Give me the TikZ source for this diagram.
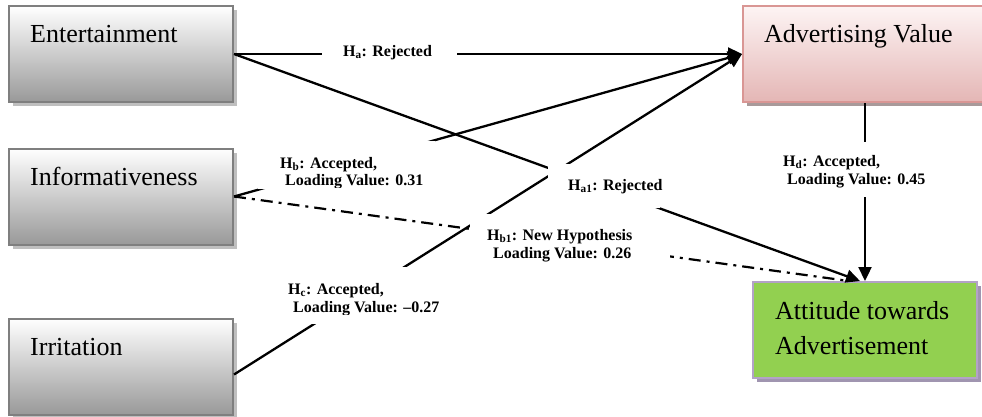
\documentclass[tikz,border=0pt]{standalone}
\usepackage{fontspec}
\setmainfont{Liberation Serif}
\usetikzlibrary{arrows.meta,shadows}
\definecolor{gborder}{HTML}{7F7F7F}
\definecolor{gshadow}{HTML}{BFBFBF}
\definecolor{pborder}{HTML}{D99694}
\definecolor{ptop}{HTML}{FDF4F4}
\definecolor{pbot}{HTML}{E4B6B5}
\definecolor{pshadow}{HTML}{A89A9A}
\definecolor{ggreen}{HTML}{92D050}
\definecolor{lborder}{HTML}{B3A2C7}
\definecolor{lshadow}{HTML}{A095B0}
\begin{document}
\begin{tikzpicture}[x=1pt,y=-1pt,
  basebox/.style={line width=2pt, inner sep=0pt, minimum height=96pt},
  greybox/.style={basebox, draw=gborder, top color=white, bottom color=black!40,
    minimum width=224pt,
    drop shadow={shadow xshift=4pt,shadow yshift=-4pt,fill=gshadow,opacity=1}},
  pinkbox/.style={basebox, draw=pborder, top color=ptop, bottom color=pbot,
    minimum width=247pt,
    drop shadow={shadow xshift=4pt,shadow yshift=-4pt,fill=pshadow,opacity=1}},
  greenbox/.style={basebox, draw=lborder, fill=ggreen, minimum width=224pt,
    drop shadow={shadow xshift=4pt,shadow yshift=-4pt,fill=lshadow,opacity=1}},
  boxtext/.style={inner sep=0pt, anchor=base west, font=\fontsize{26}{30}\selectfont},
  labtext/.style={inner sep=0pt, anchor=base west, font=\fontsize{16}{18}\selectfont\bfseries},
  conn/.style={line width=2.3pt},
  tip/.style={-{Triangle[length=14pt,width=13pt]}},
  dashdot/.style={line width=2.2pt, dash pattern=on 12pt off 6pt on 3pt off 6pt}
]
\useasboundingbox (0,0) rectangle (982,416);

% boxes
\node[greybox] (ent) at (121,54) {};
\node[greybox] (inf) at (121,196.5) {};
\node[greybox] (irr) at (121,366.5) {};
\node[pinkbox] (adv) at (866.5,54) {};
\node[greenbox] (att) at (865,330) {};

\node[boxtext] (entt) at (30,42) {Entertainment};
\node[boxtext] (inft) at (30,185) {Informativeness};
\node[boxtext] (irrt) at (30,355) {Irritation};
\node[boxtext] (advt) at (764,42) {Advertising Value};
\node[boxtext] (att1) at (775,319) {Attitude towards};
\node[boxtext] (att2) at (775,354) {Advertisement};

% connectors
\draw[conn,tip] (ent.east) -- (adv.west);
\draw[conn,tip] (inf.east) -- (adv.west);
\draw[conn,tip] ([yshift=-8pt]irr.east) -- (adv.west);
\draw[conn,tip] (ent.east) -- ([xshift=-5pt]att.north);
\draw[dashdot] (inf.east) -- ([xshift=-16pt]att.north);
\draw[conn,tip] (att.north |- adv.south) -- (att.north);

% label patches
\fill[white] (322,40) rectangle (457,66);
\fill[white] (258,141) rectangle (435,189);
\fill[white] (548,164) rectangle (660,208);
\fill[white] (280,267) rectangle (440,324);
\fill[white] (470,214) rectangle (670,262);
\fill[white] (780,142) rectangle (932,197);

% labels
\node[labtext] (ha) at (343,56) {H\textsubscript{a}: Rejected};
\node[labtext] (hb) at (280,168) {H\textsubscript{b}: Accepted,};
\node[labtext] (ha1) at (568,190) {H\textsubscript{a1}: Rejected};
\node[labtext] (hc) at (288,294) {H\textsubscript{c}: Accepted,};
\node[labtext] (hb1) at (487,240) {H\textsubscript{b1}: New Hypothesis};
\node[labtext] (hd) at (783,166) {H\textsubscript{d}: Accepted,};
\begin{scope}
  \clip (280,170) rectangle (440,187);
  \node[labtext] (hbv) at (285,185) {Loading Value: 0.31};
\end{scope}
\begin{scope}
  \clip (290,296) rectangle (450,314);
  \node[labtext] (hcv) at (293,312) {Loading Value: –0.27};
\end{scope}
\begin{scope}
  \clip (490,242) rectangle (650,261);
  \node[labtext] (hb1v) at (493,258) {Loading Value: 0.26};
\end{scope}
\begin{scope}
  \clip (785,168) rectangle (940,187);
  \node[labtext] (hdv) at (787,184) {Loading Value: 0.45};
\end{scope}
\end{tikzpicture}
\end{document}
